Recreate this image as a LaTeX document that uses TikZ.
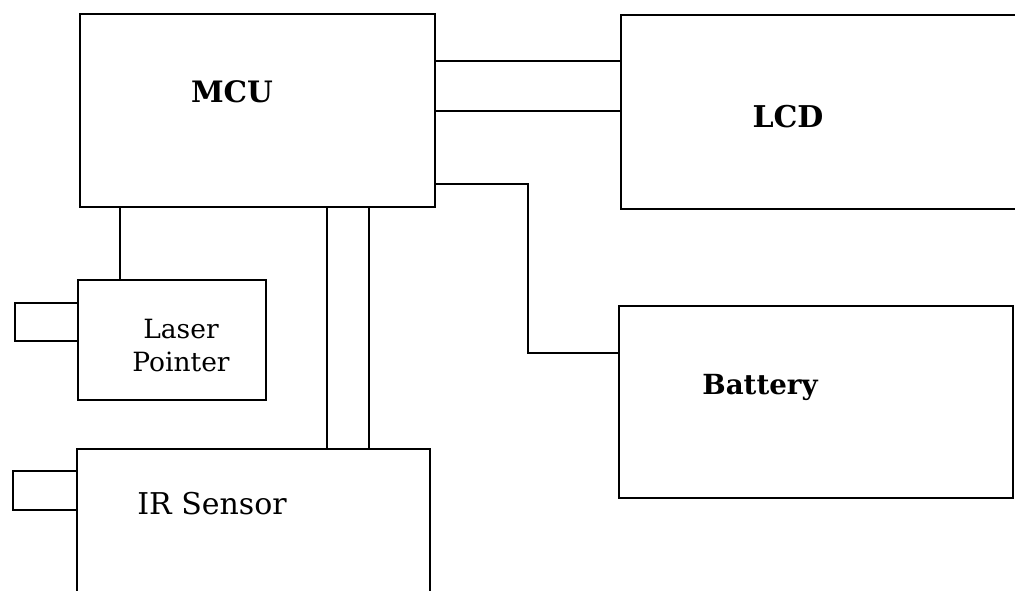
\documentclass[tikz,border=0pt]{standalone}
\usepackage{fontspec}
\setmainfont{DejaVu Serif}
\usetikzlibrary{calc}
\begin{document}
\begin{tikzpicture}[x=1pt,y=-1pt,
  box/.style={draw=black,line width=2pt,rectangle,inner sep=0pt,fill=none},
  wire/.style={draw=black,line width=1.5pt},
  lbl/.style={inner sep=0pt,align=center,text=black}]
\useasboundingbox (0,0) rectangle (1015,591);
\clip (0,0) rectangle (1015,591);
% boxes
\node[box,minimum width=355pt,minimum height=193pt] (mcu) at (257.5,110.5) {};
\node[box,minimum width=419pt,minimum height=194pt] (lcd) at (830.5,112) {};
\node[box,minimum width=188pt,minimum height=120pt] (laser) at (172,340) {};
\node[box,minimum width=63pt,minimum height=38pt] (lasertip) at (46.5,322) {};
\node[box,minimum width=353pt,minimum height=171pt] (ir) at (253.5,534.5) {};
\node[box,minimum width=64pt,minimum height=39pt] (irtip) at (45,490.5) {};
\node[box,minimum width=394pt,minimum height=192pt] (bat) at (816,402) {};
% labels
\node[lbl,font=\fontsize{29.5}{34}\selectfont\bfseries] (mcut) at (232,92) {MCU};
\node[lbl,font=\fontsize{30}{35}\selectfont\bfseries] (lcdt) at (788,117) {LCD};
\node[lbl,font=\fontsize{27.7}{32}\selectfont\bfseries] (batt) at (760,387) {Battery};
\node[lbl,font=\fontsize{26.5}{33}\selectfont] (lasert) at (181,346) {Laser\\Pointer};
\node[lbl,font=\fontsize{30}{36}\selectfont] (irt) at (212,504) {IR Sensor};
% connectors
\coordinate (m1) at ([yshift=-48pt]mcu.north east);
\coordinate (m2) at ([yshift=-98pt]mcu.north east);
\coordinate (m3) at ([yshift=24pt]mcu.south east);
\coordinate (b1) at ([yshift=49pt]bat.west);
\coordinate (m4) at ([xshift=41pt]mcu.south west);
\coordinate (m5) at ([xshift=248pt]mcu.south west);
\coordinate (m6) at ([xshift=290pt]mcu.south west);
\draw[wire] (m1) -- (m1 -| lcd.west);
\draw[wire] (m2) -- (m2 -| lcd.west);
\draw[wire] (m3) -- ++(92pt,0pt) |- (b1);
\draw[wire] (m4) -- (m4 |- laser.north);
\draw[wire] (m5) -- (m5 |- ir.north);
\draw[wire] (m6) -- (m6 |- ir.north);
\end{tikzpicture}
\end{document}
